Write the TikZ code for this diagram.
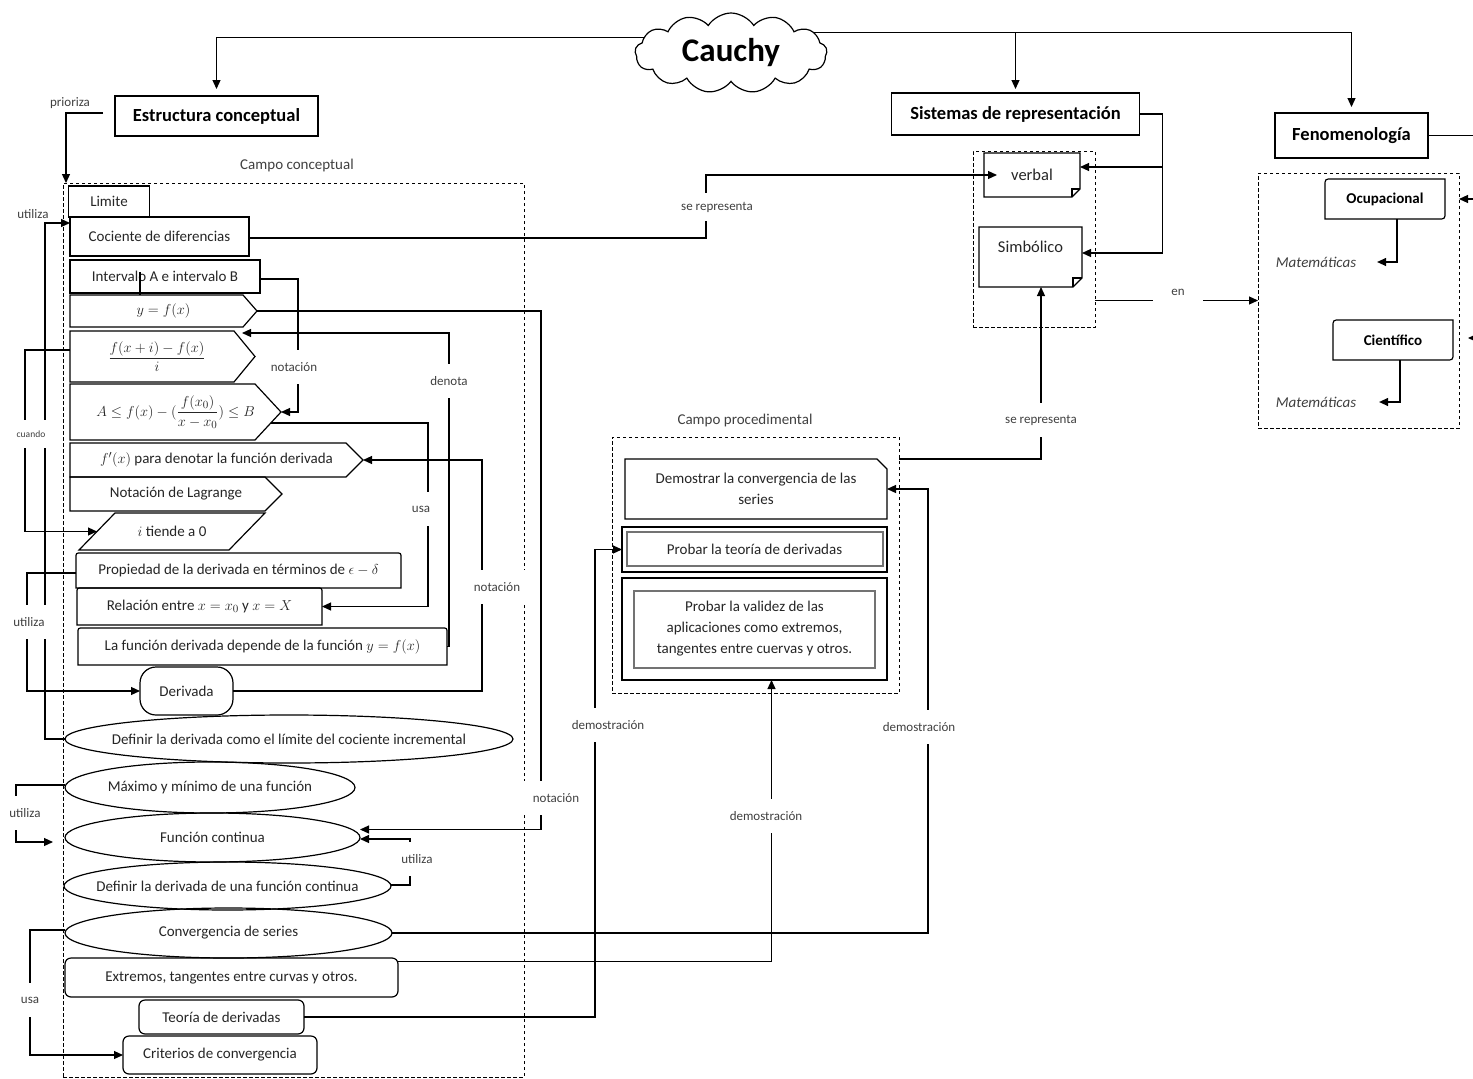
\documentclass[tikz,border=0pt]{standalone}
\usepackage{fontspec}
\setmainfont{Carlito}
\usepackage{amsmath}
\usetikzlibrary{shapes.symbols,shapes.geometric,calc,arrows.meta}

% outlines drawn from the anchors of a (borderless) node
\newcommand\pentabox[2]{\draw (#1.north west) -- ($(#1.north east)+(-#2,0)$) -- (#1.east) -- ($(#1.south east)+(-#2,0)$) -- (#1.south west) -- cycle;}
\newcommand\topround[2]{\draw (#1.south west) -- ($(#1.north west)+(0,#2)$) .. controls (#1.north west) .. ($(#1.north west)+(#2,0)$) -- ($(#1.north east)+(-#2,0)$) .. controls (#1.north east) .. ($(#1.north east)+(0,#2)$) -- (#1.south east) -- cycle;}
\newcommand\diaground[2]{\draw ($(#1.north west)+(#2,0)$) -- (#1.north east) -- ($(#1.south east)+(0,-#2)$) .. controls (#1.south east) .. ($(#1.south east)+(-#2,0)$) -- (#1.south west) -- ($(#1.north west)+(0,#2)$) .. controls (#1.north west) .. ($(#1.north west)+(#2,0)$) -- cycle;}
\newcommand\notebox[2]{\draw (#1.north west) -- (#1.north east) -- ($(#1.south east)+(0,-#2)$) -- ($(#1.south east)+(-#2,0)$) -- (#1.south west) -- cycle;
  \draw ($(#1.south east)+(0,-#2)$) -- ($(#1.south east)+(-#2,-#2)$) -- ($(#1.south east)+(-#2,0)$);}
\newcommand\snipbox[2]{\draw (#1.north west) -- ($(#1.north east)+(-#2,0)$) -- ($(#1.north east)+(0,#2)$) -- (#1.south east) -- (#1.south west) -- cycle;}
\newcommand\slantbox[2]{\draw ($(#1.north west)+(#2,0)$) -- (#1.north east) -- ($(#1.south east)+(-#2,0)$) -- (#1.south west) -- cycle;}

\begin{document}
\begin{tikzpicture}[x=1pt,y=-1pt,
  line width=1.2pt,
  font=\fontsize{15}{18}\selectfont,
  every node/.style={text=black!85, outer sep=0pt},
  arr/.style={-{Triangle[length=9pt,width=8pt]}},
  box/.style={draw, rectangle, inner sep=2pt},
  bare/.style={rectangle, inner sep=2pt},
  rbox/.style={draw, rectangle, rounded corners=6pt, inner sep=2pt},
  oval/.style={draw, ellipse, inner sep=0pt},
  title/.style={draw, rectangle, text=black, font=\fontsize{18.5}{22}\selectfont\bfseries},
  frame/.style={draw, rectangle, dash pattern=on 3.5pt off 2.5pt, line width=1pt},
  innerframe/.style={draw=black!55, line width=2pt},
  note/.style={text=black!75, font=\fontsize{13}{15}\selectfont, inner sep=1pt},
  lbl/.style={note, fill=white, minimum height=34pt, inner xsep=4pt},
]
\useasboundingbox (0,0) rectangle (1473,1079);
\clip (0,0) rectangle (1473,1079);
\fill[white] (0,0) rectangle (1473,1079);

% ---------- frames ----------
\node[frame, minimum width=461, minimum height=894] (cc) at (293.5,630) {};
\node[frame, minimum width=287, minimum height=256] (cp) at (755.5,565) {};
\node[frame, minimum width=122, minimum height=176] (sb) at (1034,239) {};
\node[frame, minimum width=201, minimum height=255] (fenbox) at (1358.5,300.5) {};

% ---------- top ----------
\node[cloud, draw, fill=white, cloud puffs=13, cloud puff arc=115, aspect=2.3,
      minimum width=192, minimum height=80, inner sep=0pt, text=black,
      font=\fontsize{33}{36}\selectfont\bfseries] (cauchy) at (731,53) {Cauchy};
\node[title, minimum width=203, minimum height=40] (estr) at (216.5,116) {Estructura conceptual};
\node[title, minimum width=248, minimum height=42] (sist) at (1015.5,114) {Sistemas de representación};
\node[title, minimum width=153, minimum height=45] (fenom) at (1351.5,135.5) {Fenomenología};

\node[note] (prioriza) at (70,103) {prioriza};
\node[note] (utl0) at (33,214) {utiliza};
\node[note, font=\fontsize{15}{18}\selectfont] (cclabel) at (297,165) {Campo conceptual};
\node[note, font=\fontsize{15}{18}\selectfont] (cplabel) at (745,420) {Campo procedimental};

% ---------- conceptual field ----------
\node[box, minimum width=81, minimum height=31] (lim) at (109,201.5) {Limite};
\node[box, minimum width=179, minimum height=39] (coc) at (159.5,236.5) {Cociente de diferencias};
\node[box, minimum width=190, minimum height=33] (intv) at (165,276.5) {Intervalo A e intervalo B};
\node[bare, minimum width=187, minimum height=32] (yfx) at (163.5,311) {$y = f(x)$};
\node[bare, minimum width=185, minimum height=51] (frac) at (162.5,356.5) {};
\node (fractext) at (157,356.5) {$\dfrac{f(x+i)-f(x)}{i}$};
\node[bare, minimum width=211, minimum height=56] (aleb) at (175.5,412) {$A \le f(x) - (\dfrac{f(x_0)}{x-x_0}) \le B$};
\node[bare, minimum width=293, minimum height=34] (fpx) at (216.5,460) {$f'(x)$ para denotar la función derivada};
\node[bare, minimum width=212, minimum height=34] (lag) at (176,494) {Notación de Lagrange};
\node[bare, minimum width=186, minimum height=37] (itd) at (172,531.5) {$i$ tiende a 0};
\node[bare, minimum width=325, minimum height=35] (prop) at (238.5,570.5) {Propiedad de la derivada en términos de $\epsilon - \delta$};
\node[bare, minimum width=245, minimum height=37] (rel) at (199.5,606.5) {Relación entre $x = x_0$ y $x = X$};
\node[bare, minimum width=369, minimum height=37] (lafun) at (262.5,646.5) {La función derivada depende de la función $y = f(x)$};
\node[draw, rectangle, rounded corners=16pt, minimum width=93, minimum height=48] (deriv) at (186.5,691) {Derivada};
\node[oval, minimum width=448, minimum height=48] (deflim) at (289,739) {\makebox[0pt]{Definir la derivada como el límite del cociente incremental}};
\node[oval, minimum width=290, minimum height=51] (maxmin) at (210,787.5) {\makebox[0pt]{Máximo y mínimo de una función}};
\node[oval, minimum width=295, minimum height=49] (fcont) at (212.5,837.5) {\makebox[0pt]{Función continua}};
\node[oval, minimum width=327, minimum height=48] (defcont) at (227.5,886) {\makebox[0pt]{Definir la derivada de una función continua}};
\node[oval, minimum width=327, minimum height=50] (conv) at (228.5,933) {\makebox[0pt]{Convergencia de series}};
\node[rbox, minimum width=333, minimum height=39] (extr) at (231.5,977.5) {Extremos, tangentes entre curvas y otros.};
\node[rbox, minimum width=165, minimum height=34] (teor) at (221.5,1017) {Teoría de derivadas};
\node[rbox, minimum width=194, minimum height=38] (crit) at (220,1055) {Criterios de convergencia};

\pentabox{yfx}{14}
\pentabox{frac}{21}
\pentabox{aleb}{26}
\pentabox{fpx}{17}
\pentabox{lag}{17}
\slantbox{itd}{36}
\topround{prop}{5}
\topround{rel}{5}
\topround{lafun}{5}

% ---------- representation systems ----------
\node[bare, minimum width=96, minimum height=44, font=\fontsize{16.5}{19}\selectfont] (verbal) at (1032,175) {verbal};
\node[bare, minimum width=103, minimum height=60, text depth=20pt, font=\fontsize{16.5}{19}\selectfont] (simb) at (1030.5,257) {Simbólico};
\notebox{verbal}{8}
\notebox{simb}{9}

% ---------- phenomenology ----------
\node[bare, minimum width=120, minimum height=40, font=\fontsize{15}{18}\selectfont\bfseries, text=black] (ocup) at (1385,199) {Ocupacional};
\node[bare, minimum width=120, minimum height=40, font=\fontsize{15}{18}\selectfont\bfseries, text=black] (cient) at (1393,340) {Científico};
\diaground{ocup}{7}
\diaground{cient}{7}
\node[inner sep=0pt, text=black!75, font=\fontsize{15}{18}\selectfont\itshape] (mat1) at (1316,262) {Matemáticas};
\node[inner sep=0pt, text=black!75, font=\fontsize{15}{18}\selectfont\itshape] (mat2) at (1316,402) {Matemáticas};

% ---------- procedural field ----------
\node[bare, minimum width=262, minimum height=60, align=center, font=\fontsize{15}{21}\selectfont] (dem) at (756,489) {Demostrar la convergencia de las\\series};
\snipbox{dem}{10}
\node[box, minimum width=265, minimum height=45] (probo) at (754.5,549.5) {Probar la teoría de derivadas};
\node[box, minimum width=265, minimum height=102, align=center, font=\fontsize{15}{21}\selectfont] (valo) at (754.5,629) {Probar la validez de las\\aplicaciones como extremos,\\tangentes entre cuervas y otros.};
\draw[innerframe] ([shift={(5,5)}]probo.north west) rectangle ([shift={(-4,-6)}]probo.south east);
\draw[innerframe] ([shift={(12,13)}]valo.north west) rectangle ([shift={(-12,-12)}]valo.south east);

% ---------- connectors ----------
\draw[arr, shorten >=7pt] (cauchy.170) -| (estr.north);
\draw[arr, shorten >=6pt] (cauchy.14) -| (fenom.north);
\draw[arr, shorten >=4pt] (cauchy.14 -| sist.north) -- (sist.north);

\draw[arr, shorten <=12pt] ([yshift=3pt]estr.west) -| ([xshift=3pt]cc.north west);
\draw[arr] (deflim.west) -- ++(-20,0) |- ([yshift=13.5pt]coc.west);
\draw[arr] ([yshift=6.5pt]frac.west) -- ++(-45,0) |- ([xshift=18pt]itd.west);
\draw[arr] ([yshift=-2.5pt]intv.east) -- ++(38,0) |- (aleb.east);
\draw ([shift={(-25,-21)}]intv.south) -- ([xshift=-23.5pt]yfx.north);
\draw[arr] (yfx.east) -- ++(284,0) |- ([yshift=8pt]fcont.east);
\draw[arr] (lafun.east) -- ++(2,0) |- ([shift={(-13,2)}]frac.north east);
\draw[arr] ([shift={(-10,11)}]aleb.east) -- ++(157,0) |- (rel.east);
\draw[arr] (deriv.east) -- ++(249,0) |- (fpx.east);
\draw[arr] ([yshift=-2.5pt]prop.west) -- ++(-49,0) |- (deriv.west);
\draw[arr, shorten >=12pt] ([yshift=2.5pt]maxmin.west) -- ++(-49,0) |- ([yshift=-4.5pt]fcont.west);
\draw[arr] ([yshift=1pt]defcont.east) -- ++(19,0) |- ([yshift=-1.5pt]fcont.east);
\draw[arr] ([yshift=3pt]conv.west) -- ++(-35,0) |- (crit.west);

\draw[arr] (conv.east) -- ++(536,0) |- (dem.east);
\draw[arr] ([yshift=16pt]extr.east) -| ([xshift=17pt]valo.south);
\draw[arr] (teor.east) -- ++(291,0) |- (probo.west);

\draw[arr] ([yshift=-1.5pt]coc.east) -- ++(457,0) |- ([xshift=13pt]verbal.west);
\draw[arr] (sist.east) -- ++(23,0) |- ([yshift=8pt]verbal.east);
\draw[arr] (sist.east) -- ++(23,0) |- ([yshift=4pt]simb.east);
\draw[arr] ([yshift=-22pt]cp.north east) -| ([xshift=10.5pt]simb.south);
\draw[arr] (sb.east |- fenbox.west) -- (fenbox.west);

\draw[arr] (fenom.east) -- ++(50,0) |- (fenbox.east |- ocup.east);
\draw[arr] (fenom.east) -- ++(50,0) |- ([shift={(15,-2)}]cient.east);
\draw[arr, shorten >=21pt] ([xshift=12pt]ocup.south) |- (mat1.east);
\draw[arr, shorten >=23pt] ([xshift=7pt]cient.south) |- (mat2.east);

% ---------- connector labels ----------
\node[lbl] (n1) at (294,367) {notación};
\node[lbl] (n2) at (449,381) {denota};
\node[lbl] (n3) at (421,509) {usa};
\node[lbl, minimum width=58] (n4) at (497,587) {notación};
\node[lbl, font=\fontsize{9.5}{11}\selectfont, minimum height=28pt] (n5) at (31,434) {cuando};
\node[lbl] (n6) at (29,622) {utiliza};
\node[lbl] (n7) at (25,813) {utiliza};
\node[lbl] (n8) at (417,859) {utiliza};
\node[lbl] (n9) at (30,1000) {usa};
\node[lbl, minimum width=70] (n10) at (556,798) {notación};
\node[lbl] (n11) at (608,725) {demostración};
\node[lbl] (n12) at (766,816) {demostración};
\node[lbl] (n13) at (919,727) {demostración};
\node[lbl, minimum height=28pt] (n14) at (717,207) {se representa};
\node[lbl] (n15) at (1041,420) {se representa};
\node[lbl, minimum width=50, minimum height=24pt] (n16) at (1178,292) {en};
\end{tikzpicture}
\end{document}
